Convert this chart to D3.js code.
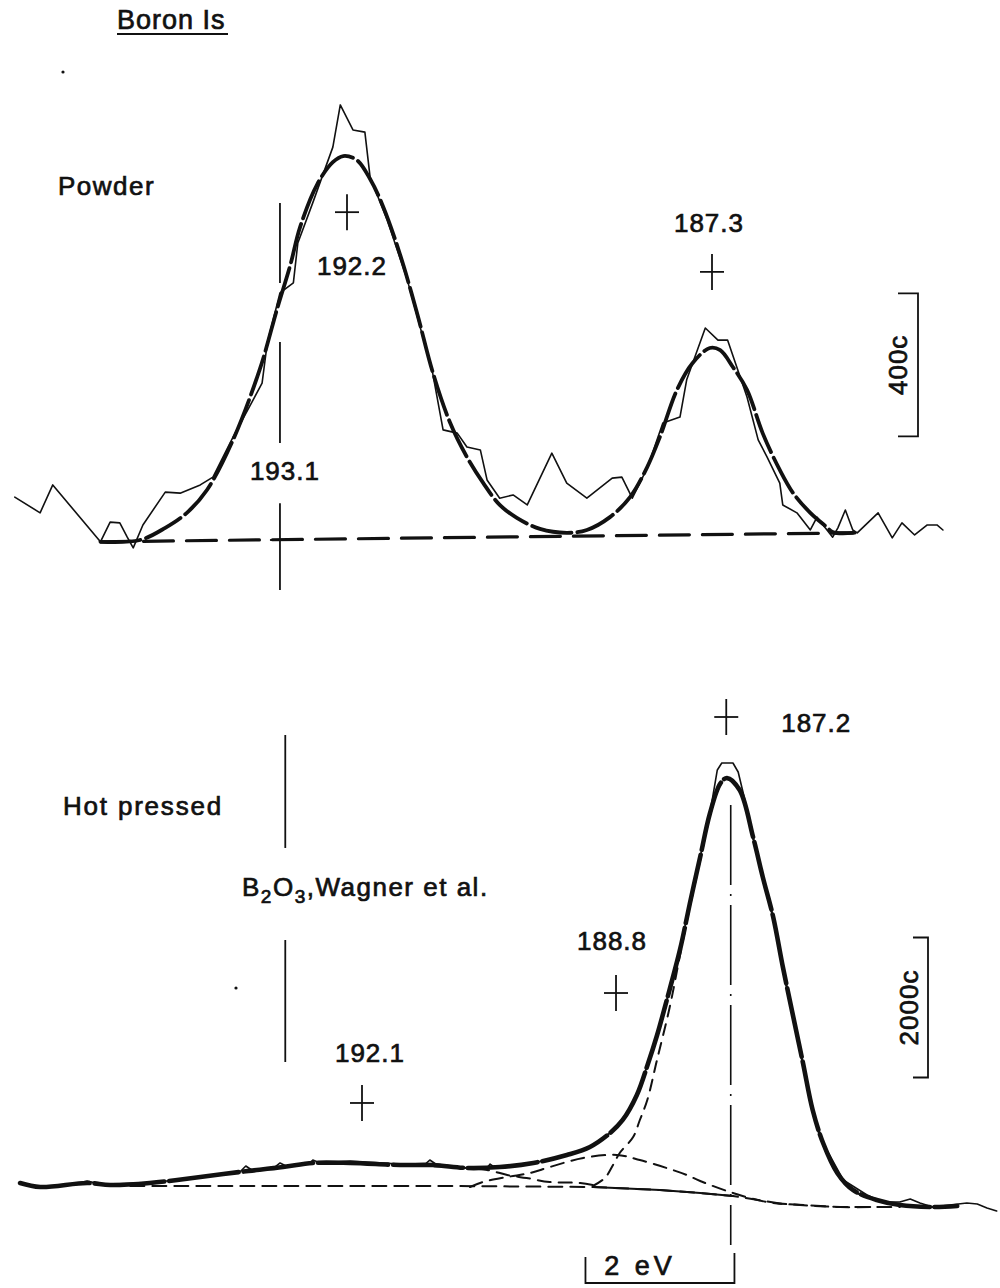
<!DOCTYPE html>
<html>
<head>
<meta charset="utf-8">
<script src="https://cdn.jsdelivr.net/npm/d3@7"></script>
<style>
  html, body { margin: 0; padding: 0; background: #fff; }
  svg { display: block; }
  text { font-family: "Liberation Sans", Arial, sans-serif; fill: #111; stroke: #111; stroke-width: 0.7px; }
</style>
</head>
<body>
<svg id="chart" width="1000" height="1288"></svg>
<script>
// ── data: binding energy (eV), counts ─────────────────────────────────────
// powder, raw spectrum
const topRaw = [[196.66,120],[196.32,76],[196.15,154],[195.51,-5],[195.38,50],[195.25,48],[195.15,8],[195.07,-22],
  [194.94,42],[194.64,134],[194.44,131],[194.17,154],[194.00,176],[193.73,288],[193.46,392],[193.34,439],
  [193.27,551],[193.10,691],[192.92,719],[192.86,831],[192.66,943],[192.39,1099],[192.29,1217],[192.12,1147],
  [191.96,1141],[191.89,1015],[191.66,895],[191.39,727],[191.05,467],[190.91,308],[190.72,299],[190.59,260],
  [190.41,252],[190.32,168],[190.15,117],[189.97,126],[189.78,98],[189.45,243],[189.25,159],[188.98,117],
  [188.64,173],[188.51,176],[188.37,117],[188.17,201],[187.96,327],[187.73,344],[187.64,448],[187.39,593],
  [187.22,559],[187.09,559],[186.83,400],[186.68,280],[186.56,232],[186.39,159],[186.35,98],[186.16,76],
  [185.98,28],[185.89,64],[185.78,34],[185.68,8],[185.61,34],[185.51,84],[185.41,28],[185.35,20],[185.07,76],
  [184.88,6],[184.75,48],[184.58,14],[184.41,42],[184.28,42],[184.20,28]];
// powder, fitted envelope
const topFit = [[195.51,-5],[194.98,0],[194.64,34],[194.35,76],[194.08,140],[193.73,280],[193.37,478],[193.14,645],
  [192.96,770],[192.83,875],[192.60,995],[192.39,1057],[192.25,1074],[192.07,1063],[191.89,1010],[191.72,935],
  [191.49,800],[191.26,635],[191.05,470],[190.82,330],[190.59,232],[190.37,159],[190.15,98],[189.92,62],
  [189.61,31],[189.25,20],[188.98,28],[188.67,64],[188.40,120],[188.17,204],[188.00,288],[187.77,420],
  [187.56,495],[187.33,537],[187.19,531],[187.02,484],[186.83,420],[186.62,299],[186.39,196],[186.21,131],
  [185.98,76],[185.76,36],[185.68,22],[185.41,20]];
const topBase = [[195.51,-5],[185.38,20]];
const topPeaks = [{ e: 192.2, c: 917, label: '192.2' }, { e: 187.3, c: 750, label: '187.3' }];
const topRef = { e: 193.1, label: '193.1', segs: [[943, 719], [554, 271], [103, -140]] };
const topBar = { c0: 290, c1: 690, label: '400c' };

// hot pressed, raw spectrum
const botRaw = [[196.69,343],[196.42,286],[196.09,300],[195.79,371],[195.62,329],[194.95,343],[194.27,429],
  [193.74,500],[193.66,586],[193.58,529],[193.27,571],[193.20,629],[193.12,586],[192.80,629],[192.76,671],
  [192.66,629],[192.26,657],[191.59,614],[191.25,614],[191.19,671],[191.11,614],[190.69,557],[190.42,557],
  [190.38,614],[190.31,557],[190.25,571],[189.80,629],[189.35,743],[189.04,857],[188.77,1057],[188.60,1243],
  [188.41,1600],[188.26,2050],[188.14,2450],[188.01,2950],[187.83,3680],[187.70,4330],[187.56,5000],
  [187.43,5620],[187.33,6243],[187.27,6343],[187.12,6343],[187.05,6214],[186.96,5814],[186.85,5286],
  [186.72,4714],[186.58,4143],[186.45,3429],[186.31,2714],[186.18,2057],[186.05,1386],[185.91,914],
  [185.64,386],[185.32,171],[185.11,71],[184.88,71],[184.74,114],[184.61,57],[184.44,0],[183.98,57],
  [183.84,43],[183.71,-14],[183.58,-57]];
// hot pressed, fitted envelope
const botFit = [[196.69,343],[196.42,286],[195.79,343],[195.48,314],[194.95,343],[194.27,429],[193.74,500],
  [193.16,571],[192.76,629],[192.26,629],[191.59,600],[191.15,600],[190.69,557],[190.25,571],[189.80,629],
  [189.35,743],[189.04,857],[188.77,1057],[188.60,1243],[188.41,1600],[188.26,2050],[188.14,2450],
  [188.01,2950],[187.83,3680],[187.70,4330],[187.56,5000],[187.43,5620],[187.29,6050],[187.20,6129],
  [187.03,5957],[186.85,5286],[186.72,4714],[186.58,4143],[186.45,3429],[186.31,2714],[186.18,2057],
  [186.05,1386],[185.91,914],[185.72,486],[185.51,243],[185.19,100],[184.88,29],[184.44,0],[184.11,14]];
// hot pressed, components (each drawn on top of the background)
const compB2O3 = [[192.26,629],[191.59,600],[190.92,571],[190.42,529],[190.15,457],[189.89,414],[189.58,357],
  [189.17,343],[189.00,314]];
const comp1888 = [[190.65,286],[190.48,357],[190.15,429],[189.84,486],[189.58,571],[189.13,700],[188.68,743],
  [188.37,671],[188.01,557],[187.74,457],[187.56,371],[187.12,200],[186.66,71],[186.22,29],[185.68,0],[185.15,0]];
const comp1872 = [[189.00,300],[188.84,414],[188.73,600],[188.64,771],[188.46,1000],[188.37,1243],[188.27,1529],
  [188.14,2100],[187.97,2850],[187.83,3600],[187.70,4280],[187.56,4950],[187.43,5580],[187.29,6030],
  [187.20,6110],[187.03,5940],[186.85,5260],[186.72,4690],[186.58,4120],[186.45,3400],[186.31,2690],
  [186.18,2030],[186.05,1360],[185.91,890],[185.72,470],[185.51,230],[185.19,100],[184.88,29],[184.44,0]];
const botBase = [[195.21,300],[192.93,300],[190.92,300],[189.00,286],[188.10,243],[187.56,200],[187.12,157],
  [186.45,43],[185.68,0],[184.88,0]];
const botBaseSolid = [189.00, 187.12];   // energy span drawn as a solid line
const botPeaks = [{ e: 187.21, c: 7000, label: '187.2' }, { e: 188.69, c: 3057, label: '188.8' },
  { e: 192.1, c: 1486, label: '192.1' }];
const botRef = { e: 193.13, label: 'Wagner et al.', segs: [[6743, 5129], [3814, 2071]] };
const peakLine = { e: 187.15, c0: 5743, c1: -543 };
const botBar = { c0: 1850, c1: 3850, label: '2000c' };
const eVBar = { e0: 189.1, e1: 187.1, label: '2 eV' };

// ── scales ─────────────────────────────────────────────────────────────────
const xTop = d3.scaleLinear().domain([192.2, 187.3]).range([347, 712]);
const yTop = d3.scaleLinear().domain([0, 400]).range([540, 397]);
const xBot = d3.scaleLinear().domain([192.1, 187.2]).range([362, 727]);
const yBot = d3.scaleLinear().domain([0, 2000]).range([1207, 1067]);

const svg = d3.select('#chart');
const lineT = c => d3.line().x(d => xTop(d[0])).y(d => yTop(d[1])).curve(c);
const lineB = c => d3.line().x(d => xBot(d[0])).y(d => yBot(d[1])).curve(c);
const smooth = d3.curveCatmullRom.alpha(0.5);

function path(g, data, gen, w, dash) {
  return g.append('path').datum(data).attr('d', gen).attr('fill', 'none')
    .attr('stroke', '#111').attr('stroke-width', w).attr('stroke-linejoin', 'round')
    .attr('stroke-linecap', 'round').attr('stroke-dasharray', dash || null);
}
function cross(g, x, y) {
  g.append('line').attr('x1', x - 12).attr('x2', x + 12).attr('y1', y).attr('y2', y);
  g.append('line').attr('x1', x).attr('x2', x).attr('y1', y - 18).attr('y2', y + 18);
}
function label(g, x, y, t, size) {
  return g.append('text').attr('x', x).attr('y', y).attr('text-anchor', 'middle')
    .attr('dominant-baseline', 'central').attr('font-size', size || 26)
    .attr('letter-spacing', 1).text(t);
}

// ── titles ─────────────────────────────────────────────────────────────────
svg.append('text').attr('x', 117).attr('y', 29).attr('font-size', 27).attr('letter-spacing', 1).text('Boron Is');
svg.append('line').attr('x1', 117).attr('x2', 228).attr('y1', 34).attr('y2', 34)
  .attr('stroke', '#111').attr('stroke-width', 2.2);
svg.append('text').attr('x', 58).attr('y', 195).attr('font-size', 26).attr('letter-spacing', 1.5).text('Powder');
svg.append('text').attr('x', 63).attr('y', 815).attr('font-size', 26).attr('letter-spacing', 1.8).text('Hot pressed');
// stray specks of the original print
svg.append('circle').attr('cx', 63).attr('cy', 72).attr('r', 1.6).attr('fill', '#111');
svg.append('circle').attr('cx', 236).attr('cy', 988).attr('r', 1.6).attr('fill', '#111');

// ── top panel (powder) ─────────────────────────────────────────────────────
const gT = svg.append('g');
path(gT, topBase, lineT(d3.curveLinear), 3.2, '30,13');
path(gT, topRaw, lineT(d3.curveLinear), 1.6);
path(gT, topFit, lineT(smooth), 3.8, '40,6');

const gTm = gT.append('g').attr('stroke', '#111').attr('stroke-width', 1.8);
topPeaks.forEach(p => cross(gTm, xTop(p.e), yTop(p.c)));
topRef.segs.forEach(s => gTm.append('line').attr('x1', xTop(topRef.e)).attr('x2', xTop(topRef.e))
  .attr('y1', yTop(s[0])).attr('y2', yTop(s[1])));
gTm.append('line').attr('x1', xTop(topRef.e) - 10).attr('x2', xTop(topRef.e) + 10)
  .attr('y1', yTop(0)).attr('y2', yTop(0));
label(gT, xTop(topPeaks[0].e) + 5, yTop(topPeaks[0].c) + 54, topPeaks[0].label);
label(gT, xTop(topPeaks[1].e) - 3, yTop(topPeaks[1].c) - 49, topPeaks[1].label);
label(gT, xTop(topRef.e) + 5, 471, topRef.label);

// 400c bar
const bx = 918;
gTm.append('path').attr('fill', 'none')
  .attr('d', `M${bx - 20},${yTop(topBar.c1)}H${bx}V${yTop(topBar.c0)}H${bx - 20}`);
label(gT, 0, 0, topBar.label)
  .attr('transform', `translate(${bx - 20},${(yTop(topBar.c0) + yTop(topBar.c1)) / 2}) rotate(-90)`);

// ── bottom panel (hot pressed) ─────────────────────────────────────────────
const gB = svg.append('g');
path(gB, botBase, lineB(d3.curveLinear), 2, '14,8');
path(gB, botBase.filter(d => d[0] <= botBaseSolid[0] && d[0] >= botBaseSolid[1]), lineB(d3.curveLinear), 2);
path(gB, compB2O3, lineB(smooth), 2, '13,8');
path(gB, comp1888, lineB(smooth), 2, '13,8');
path(gB, comp1872, lineB(smooth), 2, '11,8');
path(gB, botRaw, lineB(d3.curveLinear), 1.6);
path(gB, botFit, lineB(smooth), 4.6, '70,5');

const gBm = gB.append('g').attr('stroke', '#111').attr('stroke-width', 1.8);
botPeaks.forEach(p => cross(gBm, xBot(p.e), yBot(p.c)));
label(gB, xBot(botPeaks[0].e) + 90, yBot(botPeaks[0].c) + 6, botPeaks[0].label);
label(gB, xBot(botPeaks[1].e) - 4, yBot(botPeaks[1].c) - 52, botPeaks[1].label);
label(gB, xBot(botPeaks[2].e) + 8, yBot(botPeaks[2].c) - 50, botPeaks[2].label);

botRef.segs.forEach(s => gBm.append('line').attr('x1', xBot(botRef.e)).attr('x2', xBot(botRef.e))
  .attr('y1', yBot(s[0])).attr('y2', yBot(s[1])));
const ref = gB.append('text').attr('x', 242).attr('y', 896).attr('font-size', 26).attr('letter-spacing', 1.5);
ref.append('tspan').text('B');
ref.append('tspan').attr('font-size', 19).attr('dy', 7).text('2');
ref.append('tspan').attr('dy', -7).text('O');
ref.append('tspan').attr('font-size', 19).attr('dy', 7).text('3');
ref.append('tspan').attr('dy', -7).text(',' + botRef.label);

// dash-dot line through the main peak
gB.append('line').attr('x1', xBot(peakLine.e)).attr('x2', xBot(peakLine.e))
  .attr('y1', yBot(peakLine.c0)).attr('y2', yBot(peakLine.c1))
  .attr('stroke', '#111').attr('stroke-width', 1.6).attr('stroke-dasharray', '80,9,2,9');

// 2000c bar
const bx2 = 928;
gBm.append('path').attr('fill', 'none')
  .attr('d', `M${bx2 - 15},${yBot(botBar.c1)}H${bx2}V${yBot(botBar.c0)}H${bx2 - 15}`);
label(gB, 0, 0, botBar.label)
  .attr('transform', `translate(${bx2 - 19},${(yBot(botBar.c0) + yBot(botBar.c1)) / 2}) rotate(-90)`);

// 2 eV bar
const ey = 1283;
gBm.append('path').attr('fill', 'none')
  .attr('d', `M${xBot(eVBar.e0)},${ey - 26}V${ey}H${xBot(eVBar.e1)}V${ey - 30}`);
label(gB, (xBot(eVBar.e0) + xBot(eVBar.e1)) / 2 - 20, ey - 17, eVBar.label, 27).attr('letter-spacing', 4);
</script>
</body>
</html>
